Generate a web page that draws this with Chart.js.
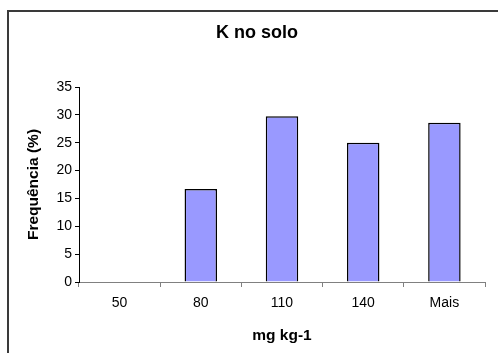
<!DOCTYPE html>
<html>
<head>
<meta charset="utf-8">
<script src="https://cdn.jsdelivr.net/npm/chart.js@4/dist/chart.umd.min.js"></script>
<style>
  html, body { margin: 0; padding: 0; background: #fff; }
  #wrap { width: 498px; height: 353px; }
</style>
</head>
<body>
<div id="wrap"><canvas id="c" width="498" height="353"></canvas></div>
<script>
// Distribution of soil potassium (K) classes
const categories = ['50', '80', '110', '140', 'Mais'];
const frequencia = [0, 16.67, 29.76, 25.00, 28.57];
const yTicks = [0, 5, 10, 15, 20, 25, 30, 35];

const FONT = 'Liberation Sans, Arial, sans-serif';

// Outer chart frame (runs past the right and bottom edges)
const framePlugin = {
  id: 'frame',
  beforeDraw(chart) {
    const ctx = chart.ctx;
    ctx.save();
    ctx.fillStyle = '#ffffff';
    ctx.fillRect(0, 0, chart.width, chart.height);
    ctx.strokeStyle = '#3a3a3a';
    ctx.lineWidth = 2;
    ctx.strokeRect(8, 11, chart.width + 20, chart.height + 20);
    ctx.restore();
  }
};

new Chart(document.getElementById('c'), {
  type: 'bar',
  data: {
    labels: categories,
    datasets: [{
      data: frequencia,
      backgroundColor: '#9999ff',
      borderColor: '#000000',
      borderWidth: 1.5,
      categoryPercentage: 1.0,
      barPercentage: 0.4
    }]
  },
  plugins: [framePlugin],
  options: {
    responsive: false,
    animation: false,
    devicePixelRatio: 1,
    layout: { padding: { left: 29, right: 13, top: 0, bottom: 0 } },
    plugins: {
      legend: { display: false },
      tooltip: { enabled: false },
      title: {
        display: true,
        text: 'K no solo',
        color: '#000',
        font: { family: FONT, size: 18, weight: 'bold', lineHeight: 1.2 },
        padding: { top: 22.7, bottom: 42.7 }
      }
    },
    scales: {
      x: {
        offset: true,
        grid: {
          offset: true,
          drawOnChartArea: false,
          drawTicks: true,
          tickLength: 5,
          tickColor: '#808080'
        },
        border: { display: true, color: '#808080', width: 1 },
        ticks: {
          color: '#000',
          font: { family: FONT, size: 14, lineHeight: 1.2 },
          padding: 8,
          maxRotation: 0,
          autoSkip: false
        },
        title: {
          display: true,
          text: 'mg kg-1',
          color: '#000',
          font: { family: FONT, size: 15.5, weight: 'bold', lineHeight: 1.2 },
          padding: { top: 0, bottom: 8 }
        },
        afterFit(scale) { scale.height = 71; }
      },
      y: {
        min: 0,
        max: 35,
        afterBuildTicks(scale) { scale.ticks = yTicks.map(v => ({ value: v })); },
        grid: {
          drawOnChartArea: false,
          drawTicks: true,
          tickLength: 4,
          tickColor: '#000'
        },
        border: { display: true, color: '#000', width: 1 },
        ticks: {
          color: '#000',
          font: { family: FONT, size: 14, lineHeight: 1.2 },
          padding: 3
        },
        title: {
          display: true,
          text: 'Frequência (%)',
          color: '#000',
          font: { family: FONT, size: 15.5, weight: 'bold', lineHeight: 1.2 },
          padding: { top: -4.5, bottom: 0 }
        },
        afterFit(scale) { scale.width = 50; }
      }
    }
  }
});
</script>
</body>
</html>
